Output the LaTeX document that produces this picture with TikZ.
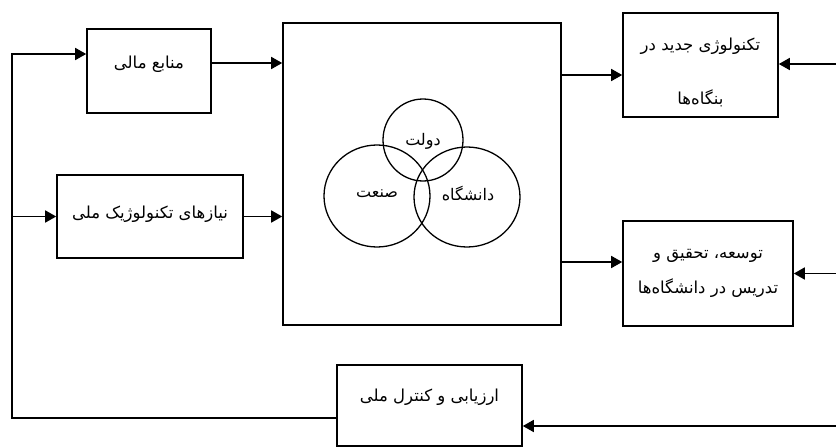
\documentclass[tikz,border=0pt]{standalone}
\usepackage{fontspec}
\newfontfamily\arabicfont[Script=Arabic]{DejaVu Sans}
\TeXXeTstate=1
\usetikzlibrary{arrows.meta,calc}
\newcommand{\fa}[1]{\arabicfont\beginR #1\endR}
\begin{document}
\begin{tikzpicture}[x=1pt,y=-1pt,
  box/.style={draw, line width=1.6pt, inner sep=0pt, align=center, font=\fontsize{16.5}{19}\selectfont},
  arr/.style={line width=1.6pt, -{Triangle[length=11pt,width=12pt]}},
  ring/.style={draw, line width=1.3pt},
  lbl/.style={font=\fontsize{16}{19}\selectfont}]
\useasboundingbox (0,0) rectangle (836,447);
% boxes
\node[box, minimum width=124pt, minimum height=84pt] (fin) at (149,71) {\raisebox{17pt}{\fa{منابع مالی}}};
\node[box, minimum width=186pt, minimum height=83pt] (nyaz) at (150,216.5) {\raisebox{9pt}{\fa{نیازهای تکنولوژیک ملی}}};
\node[box, minimum width=155pt, minimum height=104pt] (tech) at (700.5,65) {\rule{0pt}{27pt}\fa{تکنولوژی جدید در}\\[35pt]\fa{بنگاه‌ها}};
\node[box, minimum width=170pt, minimum height=105pt] (tod) at (708,273.5) {\fa{توسعه، تحقیق و}\\[16pt]\fa{تدریس در دانشگاه‌ها}};
\node[box, minimum width=185pt, minimum height=81pt] (eval) at (429.5,405.5) {\raisebox{21pt}{\fa{ارزیابی و کنترل ملی}}};
\node[box, minimum width=278pt, minimum height=302pt] (central) at (422,174) {};
% circles
\draw[ring] (423,140) circle [x radius=40, y radius=41];
\draw[ring] (377,196) circle [x radius=53, y radius=51];
\draw[ring] (467,197) circle [x radius=53, y radius=50];
\node[lbl] (dolat) at (423,141) {\fa{دولت}};
\node[lbl] (sanat) at (377,194) {\fa{صنعت}};
\node[lbl] (daneshgah) at (468,194) {\fa{دانشگاه}};
% rail coordinates
\coordinate (railtop) at (12,54);
\coordinate (railmid) at (12,216.5);
\coordinate (railbot) at (12,418);
\coordinate (r1) at (836,64);
\coordinate (r2) at (836,273.5);
\coordinate (r3) at (836,426);
% left feedback rail
\draw[arr] (eval.west |- railbot) -- (railbot) -- (railtop) -- (railtop -| fin.west);
\draw[arr] (railmid) -- (railmid -| nyaz.west);
% into central
\draw[arr] ($(fin.east)+(0,-8)$) coordinate (a1) -- (a1 -| central.west);
\draw[arr] (nyaz.east) -- (nyaz.east -| central.west);
% out of central
\draw[arr] ($(tech.west)+(0,10)$) coordinate (t1) (t1 -| central.east) -- (t1);
\draw[arr] ($(tod.west)+(0,-11.5)$) coordinate (t2) (t2 -| central.east) -- (t2);
% from right edge
\draw[arr] (r1) -- (r1 -| tech.east);
\draw[arr] (r2) -- (r2 -| tod.east);
\draw[arr] (r3) -- (r3 -| eval.east);
\end{tikzpicture}
\end{document}
